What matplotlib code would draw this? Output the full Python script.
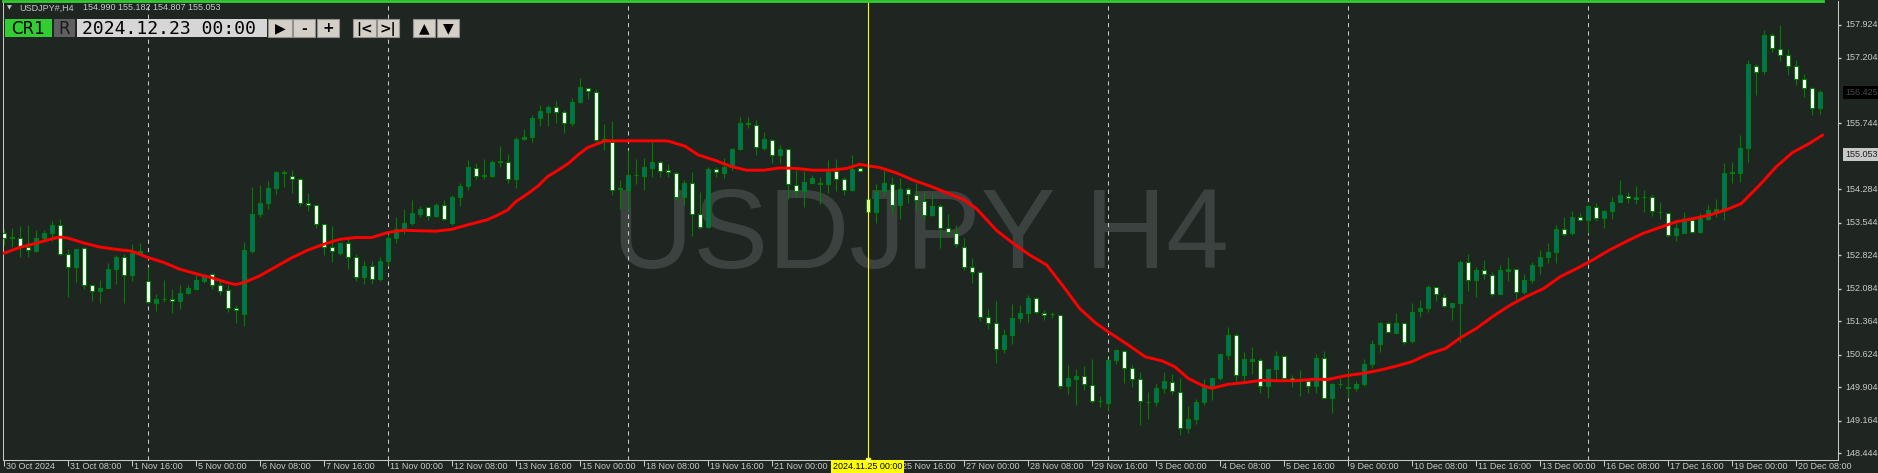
import numpy as np
import matplotlib
matplotlib.use('Agg')
import matplotlib.pyplot as plt
import matplotlib.transforms as mtransforms
from matplotlib.patches import Rectangle

W, H = 1878, 473
BG = '#1f2622'
FG = '#c8c8c8'
WICK = '#008000'
BULL = '#00706e'
BEAR = '#ffffff'

# USDJPY H4, 30 Oct 2024 00:00 .. 20 Dec 2024 20:00 (228 bars)
opens = [
    153.32, 153.22, 153.22, 153.01, 152.93, 153.22, 153.31, 153.49, 152.85, 152.56,
    152.98, 152.17, 152.03, 152.11, 152.53, 152.78, 152.38, 152.88, 152.26, 151.77,
    151.86, 151.86, 151.82, 151.99, 152.07, 152.26, 152.42, 152.17, 152.05, 151.67,
    151.52, 152.93, 153.73, 153.99, 154.31, 154.65, 154.59, 154.51, 153.99, 153.95,
    153.51, 153.00, 152.88, 153.09, 152.79, 152.35, 152.60, 152.30, 152.70, 153.20,
    153.40, 153.55, 153.74, 153.89, 153.70, 153.95, 153.55, 154.11, 154.37, 154.76,
    154.59, 154.59, 154.91, 154.90, 154.51, 155.41, 155.45, 155.86, 156.00, 156.10,
    156.00, 155.75, 156.23, 156.54, 156.45, 155.38, 155.33, 154.30, 154.27, 154.60,
    154.59, 154.76, 154.90, 154.71, 154.64, 154.11, 154.42, 153.75, 153.46, 154.73,
    154.64, 154.77, 155.19, 155.75, 155.72, 155.21, 155.37, 155.04, 155.19, 154.39,
    154.25, 154.43, 154.42, 154.41, 154.70, 154.51, 154.27, 154.75, 154.08, 153.79,
    154.26, 154.40, 153.94, 154.30, 154.17, 154.03, 153.72, 153.91, 153.42, 153.33,
    153.00, 152.56, 152.45, 151.46, 151.32, 150.76, 151.07, 151.43, 151.54, 151.89,
    151.56, 151.52, 151.51, 149.93, 150.09, 150.16, 149.96, 149.60, 149.55, 150.52,
    150.71, 150.34, 150.08, 149.58, 149.57, 149.88, 150.03, 149.80, 149.00, 149.20,
    149.57, 149.91, 150.10, 150.62, 151.07, 150.17, 150.49, 150.52, 149.93, 150.30,
    150.60, 150.11, 150.05, 150.05, 149.93, 150.56, 149.66, 149.97, 149.91, 149.90,
    149.97, 150.41, 150.87, 151.32, 151.11, 151.32, 150.93, 151.60, 151.67, 152.12,
    151.91, 151.69, 151.76, 152.67, 152.29, 152.50, 152.40, 151.98, 152.48, 152.53,
    152.02, 152.28, 152.59, 152.78, 152.89, 153.40, 153.31, 153.68, 153.60, 153.90,
    153.66, 153.80, 154.01, 154.14, 154.07, 154.12, 154.12, 153.79, 153.77, 153.27,
    153.31, 153.61, 153.35, 153.64, 153.80, 153.83, 154.67, 154.64, 155.21, 157.02,
    156.91, 157.70, 157.39, 157.27, 157.02, 156.72, 156.52, 156.08,
]
highs = [
    153.40, 153.44, 153.47, 153.50, 153.38, 153.38, 153.58, 153.63, 152.96, 152.97,
    153.00, 152.18, 152.29, 152.65, 152.83, 152.85, 153.07, 153.09, 152.57, 151.97,
    152.28, 152.07, 152.17, 152.17, 152.39, 152.42, 152.43, 152.26, 152.17, 151.72,
    153.12, 154.34, 154.38, 154.48, 154.70, 154.71, 154.71, 154.53, 154.21, 153.95,
    153.52, 153.47, 153.13, 153.24, 152.85, 152.70, 152.70, 152.80, 153.30, 153.68,
    153.86, 154.04, 153.92, 153.90, 153.99, 154.06, 154.17, 154.42, 154.93, 154.86,
    154.96, 154.93, 155.24, 155.06, 155.44, 155.63, 155.93, 156.15, 156.15, 156.24,
    156.04, 156.31, 156.74, 156.54, 156.50, 155.73, 155.80, 154.49, 155.16, 154.96,
    154.97, 155.34, 154.91, 154.84, 154.66, 154.49, 154.66, 154.23, 154.77, 154.79,
    154.99, 155.21, 155.88, 155.89, 155.83, 155.56, 155.40, 155.27, 155.19, 154.71,
    154.70, 154.60, 154.55, 154.94, 154.95, 154.57, 155.05, 154.79, 154.12, 154.40,
    154.71, 154.56, 154.53, 154.33, 154.43, 154.23, 154.21, 153.97, 153.73, 153.49,
    153.22, 152.76, 152.47, 151.63, 151.81, 151.19, 151.74, 151.72, 151.94, 151.91,
    151.61, 151.57, 151.51, 150.39, 150.30, 150.37, 150.54, 149.71, 150.54, 150.75,
    150.73, 150.39, 150.25, 149.80, 149.97, 150.25, 150.20, 150.10, 149.50, 149.64,
    150.08, 150.11, 150.64, 151.23, 151.11, 150.69, 150.79, 150.56, 150.30, 150.70,
    150.60, 150.17, 150.28, 150.06, 150.64, 150.70, 149.99, 150.10, 150.30, 150.04,
    150.53, 150.95, 151.34, 151.35, 151.54, 151.33, 151.78, 151.83, 152.18, 152.13,
    151.96, 151.77, 152.72, 152.85, 152.56, 152.72, 152.45, 152.61, 152.78, 152.53,
    152.41, 152.68, 152.95, 153.09, 153.49, 153.68, 153.80, 153.77, 153.94, 153.99,
    153.83, 154.11, 154.49, 154.23, 154.36, 154.27, 154.18, 154.00, 153.77, 153.60,
    153.78, 153.68, 153.77, 153.95, 154.08, 154.86, 154.90, 155.49, 157.15, 157.06,
    157.81, 157.75, 157.92, 157.39, 157.15, 156.84, 156.56, 156.48,
]
lows = [
    153.05, 153.02, 152.79, 152.78, 152.90, 153.15, 153.15, 152.83, 151.91, 152.24,
    152.09, 151.82, 151.77, 152.11, 152.20, 151.77, 152.26, 152.87, 151.76, 151.60,
    151.80, 151.54, 151.63, 151.97, 152.06, 152.22, 152.08, 151.95, 151.57, 151.33,
    151.27, 152.87, 153.68, 153.86, 154.18, 154.34, 154.21, 153.92, 153.81, 153.44,
    152.83, 152.68, 152.84, 152.52, 152.25, 152.20, 152.20, 152.25, 152.60, 153.10,
    153.30, 153.50, 153.68, 153.61, 153.68, 153.60, 153.50, 153.92, 154.27, 154.51,
    154.51, 154.56, 154.79, 154.42, 154.32, 155.38, 155.33, 155.69, 155.69, 155.76,
    155.53, 155.69, 156.19, 156.28, 155.34, 155.16, 154.16, 153.85, 153.83, 154.41,
    154.27, 154.56, 154.56, 154.56, 154.05, 153.94, 153.26, 153.41, 153.42, 154.57,
    154.53, 154.71, 155.16, 155.64, 155.05, 155.15, 154.87, 154.88, 154.08, 154.11,
    153.90, 154.42, 153.97, 154.21, 154.24, 154.16, 154.25, 154.68, 153.77, 153.55,
    154.16, 153.75, 153.62, 153.99, 153.84, 153.60, 153.69, 152.98, 153.25, 153.00,
    152.50, 152.22, 151.37, 151.19, 150.44, 150.67, 150.87, 151.35, 151.35, 151.53,
    151.40, 151.43, 149.86, 149.75, 149.51, 149.84, 149.56, 149.46, 149.40, 150.43,
    149.99, 149.91, 149.07, 149.21, 149.49, 149.78, 149.75, 148.85, 148.90, 149.10,
    149.51, 149.62, 150.06, 150.54, 149.99, 149.99, 150.19, 149.78, 149.66, 150.06,
    150.08, 149.91, 149.71, 149.77, 149.77, 149.66, 149.34, 149.88, 149.66, 149.83,
    149.93, 150.34, 150.69, 151.13, 151.10, 150.87, 150.89, 151.47, 151.58, 151.82,
    151.69, 151.39, 150.90, 152.04, 151.91, 152.31, 151.93, 151.96, 152.26, 151.87,
    151.97, 152.22, 152.42, 152.65, 152.66, 153.25, 153.27, 153.59, 153.31, 153.59,
    153.44, 153.63, 154.01, 153.99, 153.97, 153.79, 153.69, 153.63, 153.24, 153.15,
    153.31, 153.33, 153.33, 153.60, 153.68, 153.61, 154.43, 154.45, 154.90, 156.37,
    156.85, 157.32, 157.13, 156.82, 156.60, 156.33, 155.93, 155.95,
]
closes = [
    153.22, 153.23, 153.04, 152.94, 153.22, 153.31, 153.50, 152.85, 152.56, 152.96,
    152.16, 152.03, 152.11, 152.53, 152.78, 152.38, 152.88, 152.92, 151.79, 151.85,
    151.87, 151.82, 151.99, 152.11, 152.28, 152.37, 152.17, 152.04, 151.67, 151.61,
    152.94, 153.75, 153.99, 154.31, 154.66, 154.66, 154.51, 153.99, 153.95, 153.51,
    153.01, 152.93, 153.09, 152.79, 152.35, 152.60, 152.30, 152.70, 153.20, 153.40,
    153.55, 153.77, 153.86, 153.70, 153.95, 153.62, 154.11, 154.37, 154.79, 154.59,
    154.60, 154.90, 154.90, 154.51, 155.41, 155.45, 155.86, 156.01, 156.10, 156.00,
    155.75, 156.23, 156.55, 156.46, 155.38, 155.40, 154.28, 154.31, 154.60, 154.61,
    154.77, 154.90, 154.70, 154.67, 154.11, 154.42, 153.75, 153.46, 154.73, 154.66,
    154.77, 155.19, 155.75, 155.74, 155.22, 155.39, 155.05, 155.19, 154.40, 154.25,
    154.44, 154.53, 154.41, 154.68, 154.51, 154.27, 154.74, 154.69, 153.79, 154.26,
    154.42, 153.94, 154.30, 154.18, 154.05, 153.72, 153.92, 153.42, 153.35, 153.07,
    152.57, 152.45, 151.46, 151.32, 150.76, 151.07, 151.43, 151.54, 151.89, 151.57,
    151.51, 151.52, 149.93, 150.10, 150.16, 149.97, 149.60, 149.61, 150.52, 150.73,
    150.34, 150.08, 149.60, 149.59, 149.88, 150.04, 149.82, 149.00, 149.21, 149.57,
    149.91, 150.10, 150.64, 151.07, 150.17, 150.54, 150.54, 149.93, 150.30, 150.60,
    150.12, 150.05, 150.06, 149.93, 150.56, 149.66, 149.97, 149.98, 149.90, 149.97,
    150.41, 150.87, 151.32, 151.13, 151.32, 150.91, 151.58, 151.67, 152.12, 151.96,
    151.70, 151.76, 152.67, 152.29, 152.50, 152.42, 151.98, 152.50, 152.53, 152.02,
    152.28, 152.61, 152.78, 152.89, 153.40, 153.29, 153.68, 153.60, 153.92, 153.66,
    153.80, 154.01, 154.16, 154.09, 154.11, 154.12, 153.80, 153.79, 153.27, 153.44,
    153.61, 153.35, 153.66, 153.84, 153.85, 154.64, 154.64, 155.21, 157.05, 156.89,
    157.70, 157.41, 157.27, 157.02, 156.72, 156.52, 156.08, 156.43,
]

# moving average (red line): bar position -> value
ma_x = [0, 2, 4, 6, 7, 8, 10, 12, 14, 16, 18, 20, 22, 24, 26, 28, 29, 30, 32, 34,
        36, 38, 40, 42, 44, 46, 48, 50, 52, 54, 56, 58, 60.4, 61.8, 63, 64, 65.6,
        66.8, 68, 69.3, 70.6, 71.8, 73, 74.3, 75.2, 78.5, 82.7, 83.2, 85.2, 86.8,
        88.9, 91, 92.9, 95, 97, 99, 101.2, 103.3, 105.4, 107, 108.3, 109.5, 111.6,
        113.7, 115.8, 117.9, 120, 121.6, 124.1, 126.2, 128.3, 130.4, 132.5, 134.5,
        136.5, 138.1, 140.6, 142.7, 144.8, 146.4, 148.1, 149.8, 151, 153, 155.2,
        157.2, 159.3, 161.4, 163.5, 165.6, 167.7, 169.8, 171.9, 174, 176, 178.1,
        180.2, 182.1, 184.1, 186.2, 188.3, 190.4, 192.5, 194.55, 196.6, 198.7,
        200.7, 202.8, 204.9, 207, 209.1, 211.2, 213.3, 215.4, 217.2, 219.5, 221.6,
        223.6, 225.7, 227.4]
ma_y = [152.87, 153.00, 153.09, 153.19, 153.23, 153.21, 153.10, 153.01, 152.96,
        152.92, 152.78, 152.67, 152.52, 152.42, 152.33, 152.22, 152.18, 152.22,
        152.37, 152.57, 152.77, 152.94, 153.07, 153.18, 153.22, 153.22, 153.33,
        153.38, 153.37, 153.36, 153.40, 153.50, 153.61, 153.72, 153.83, 154.01,
        154.20, 154.36, 154.57, 154.71, 154.86, 155.05, 155.21, 155.30, 155.36,
        155.36, 155.36, 155.35, 155.24, 155.05, 154.93, 154.79, 154.71, 154.71,
        154.76, 154.75, 154.71, 154.71, 154.75, 154.84, 154.80, 154.77, 154.65,
        154.49, 154.36, 154.21, 154.06, 153.86, 153.38, 153.09, 152.83, 152.61,
        152.13, 151.65, 151.33, 151.13, 150.84, 150.58, 150.49, 150.36, 150.10,
        149.95, 149.88, 149.97, 150.01, 150.06, 150.05, 150.05, 150.08, 150.08,
        150.16, 150.21, 150.28, 150.37, 150.47, 150.64, 150.76, 151.00, 151.21,
        151.48, 151.72, 151.92, 152.09, 152.35, 152.53, 152.73, 152.94, 153.13,
        153.31, 153.44, 153.57, 153.64, 153.72, 153.84, 153.97, 154.38, 154.79,
        155.10, 155.30, 155.49]

tick_bars = [0, 8, 16, 24, 32, 40, 48, 56, 64, 72, 80, 88, 96, 104, 112, 120,
             128, 136, 144, 152, 160, 168, 176, 184, 192, 200, 208, 216, 224]
tick_labels = ['30 Oct 2024', '31 Oct 08:00', '1 Nov 16:00', '5 Nov 00:00',
               '6 Nov 08:00', '7 Nov 16:00', '11 Nov 00:00', '12 Nov 08:00',
               '13 Nov 16:00', '15 Nov 00:00', '18 Nov 08:00', '19 Nov 16:00',
               '21 Nov 00:00', '22 Nov 08:00', '25 Nov 16:00', '27 Nov 00:00',
               '28 Nov 08:00', '29 Nov 16:00', '3 Dec 00:00', '4 Dec 08:00',
               '5 Dec 16:00', '9 Dec 00:00', '10 Dec 08:00', '11 Dec 16:00',
               '13 Dec 00:00', '16 Dec 08:00', '17 Dec 16:00', '19 Dec 00:00',
               '20 Dec 08:00']
grid_bars = [18, 48, 78, 138, 168, 198]
cursor_bar = 108
cursor_label = '2024.11.25 00:00'
price_ticks = [157.924, 157.204, 155.744, 154.284, 153.544, 152.824, 152.084,
               151.364, 150.624, 149.904, 149.164, 148.444]
ask_price = 156.425
bid_price = 155.053


def px_box(l, t, r, b):
    return [l / W, 1 - b / H, (r - l) / W, (b - t) / H]


fig = plt.figure(figsize=(W / 100, H / 100), dpi=100, facecolor=BG)
ax = fig.add_axes(px_box(3, 1, 1838, 460))
ax.set_facecolor(BG)
ax.set_xlim(-0.075, 229.3)
ax.set_ylim(148.296, 158.455)

# watermark
ax.text(0.4997, 0.418, 'USDJPY H4', transform=ax.transAxes, ha='center',
        va='baseline', fontsize=81, color='#3c4240', family='Liberation Sans',
        zorder=0)

for g in grid_bars:
    ax.axvline(g, color=FG, lw=0.75, ls=(0, (4, 4)), zorder=1)

o = np.array(opens)
c = np.array(closes)
x = np.arange(len(c))
ax.vlines(x, lows, highs, color=WICK, lw=0.8, zorder=3)
fills = [BULL if cc > oo else BEAR for oo, cc in zip(o, c)]
ax.bar(x, np.abs(c - o), bottom=np.minimum(o, c), width=0.5, color=fills,
       edgecolor=WICK, linewidth=0.8, zorder=4)

ax.plot(ma_x, ma_y, color='#ff0000', lw=2.1, zorder=5, solid_capstyle='round')

# cursor line
ax.axvline(cursor_bar, color='#ffff00', lw=0.8, zorder=6)

for side in ['left', 'bottom', 'right']:
    ax.spines[side].set_color(FG)
    ax.spines[side].set_linewidth(0.75)
ax.spines['top'].set_visible(False)
ax.plot([0, (1823 - 3) / 1835], [1.0, 1.0], transform=ax.transAxes,
        color='#32cd32', lw=2, clip_on=False, zorder=7)

ax.set_xticks(tick_bars)
ax.tick_params(axis='x', length=4, width=0.75, color=FG, labelbottom=False)
ax.yaxis.tick_right()
ax.set_yticks(price_ticks)
ax.tick_params(axis='y', length=2, width=1, color=FG, labelright=False,
               labelleft=False)

tx = mtransforms.blended_transform_factory(ax.transData, ax.transAxes)
for b, lab in zip(tick_bars, tick_labels):
    ax.text(b + 0.25, -0.014, lab, transform=tx, ha='left', va='center',
            fontsize=6.5, color=FG, family='Liberation Sans', clip_on=False)
ax.text(cursor_bar, -0.014, cursor_label, transform=tx, ha='center',
        va='center', fontsize=6.5, color='black', family='Liberation Sans',
        clip_on=False, zorder=10,
        bbox=dict(boxstyle='square,pad=0.2', fc='#ffff00', ec='none'))
ax.plot([cursor_bar], [0.0], transform=tx, marker='s', ms=3.5, mfc='white',
        mec='#ffff00', clip_on=False, zorder=11)

ty = mtransforms.blended_transform_factory(ax.transAxes, ax.transData)
for p in price_ticks:
    ax.text(1.0038, p, f'{p:.3f}', transform=ty, ha='left', va='center',
            fontsize=6.5, color=FG, family='Liberation Sans', clip_on=False)
ax.text(1.0038, ask_price, f'{ask_price:.3f}', transform=ty, ha='left',
        va='center', fontsize=6.5, color='#4a4a4a', family='Liberation Sans',
        clip_on=False, bbox=dict(boxstyle='square,pad=0.25', fc='black', ec='none'))
ax.text(1.0038, bid_price, f'{bid_price:.3f}', transform=ty, ha='left',
        va='center', fontsize=6.5, color='#202020', family='Liberation Sans',
        clip_on=False, bbox=dict(boxstyle='square,pad=0.25', fc='#c8c8c8', ec='none'))

# toolbar overlay in pixel coordinates
ov = fig.add_axes([0, 0, 1, 1])
ov.set_xlim(0, W)
ov.set_ylim(H, 0)
ov.axis('off')
ov.patch.set_visible(False)

ov.text(7, 8, '▼', fontsize=4.5, color=FG, va='center', ha='left')
ov.text(19, 8, 'USDJPY#,H4', fontsize=6.5, color=FG, va='center',
        family='Liberation Sans')
ov.text(83, 8, '154.990 155.182 154.807 155.053', fontsize=6.5, color=FG,
        va='center', family='Liberation Sans')


def box(l, t, r, b, fc, ec='none'):
    ov.add_patch(Rectangle((l, t), r - l, b - t, fc=fc, ec=ec, lw=0.8))


box(5, 19, 52, 37, '#32cd32')
ov.text(28.5, 28.5, 'CR1', fontsize=12, color='black', ha='center', va='center')
box(54, 19, 75, 37, '#5f5f5f')
ov.text(64.5, 28.5, 'R', fontsize=12, color='#1a1a1a', ha='center', va='center')
box(77, 19, 267, 37, '#d6d6d6')
ov.text(82, 28.5, '2024.12.23 00:00', fontsize=13, color='black', ha='left',
        va='center', family='DejaVu Sans Mono')

buttons = [(268, 292, '▶'), (293, 315, '-'), (317, 339, '+'),
           (353, 376, '|<'), (377, 399, '>|'), (413, 435, '▲'), (437, 459, '▼')]
for l, r, g in buttons:
    box(l, 19, r, 37, '#d4d0c8', '#909090')
    ov.text((l + r) / 2, 28.5, g, fontsize=10, color='black', ha='center',
            va='center', fontweight='bold')

fig.savefig('out.png', dpi=100, facecolor=BG)
